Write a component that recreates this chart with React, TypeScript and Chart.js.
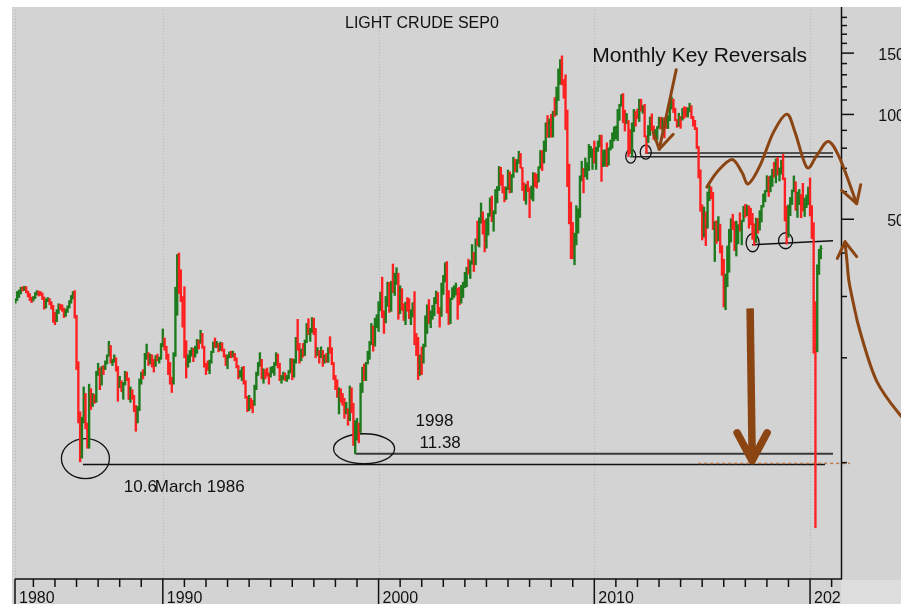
import React, { useEffect, useRef } from 'react';
import { Chart, registerables } from 'chart.js';

Chart.register(...registerables);

// Monthly bars, first bar = March 1983, last bar = July 2020
const FIRST_YEAR = 1983;
const FIRST_MONTH = 3;

const OPEN = [
  29.0, 29.3, 30.6, 30.9, 31.7, 31.5, 31.9, 30.9, 30.4, 29.5,
  29.3, 29.7, 30.6, 30.8, 30.6, 30.5, 29.8, 27.9, 29.3, 29.5, 28.8, 28.1,
  26.4, 25.6, 27.3, 28.2, 28.0, 27.6, 26.5, 27.4, 28.0, 29.0, 30.0, 30.8,
  26.3, 18.8, 13.3, 10.4, 13.3, 15.4, 12.8, 11.2, 15.9, 14.8, 15.3, 15.0,
  18.0, 18.6, 16.8, 18.8, 18.7, 19.4, 20.3, 21.4, 19.6, 19.6, 19.9, 18.4,
  16.7, 17.0, 16.0, 16.9, 17.9, 17.4, 15.2, 15.8, 15.6, 14.2, 13.8, 14.2,
  17.2, 18.0, 17.9, 20.4, 20.4, 19.6, 20.1, 19.6, 19.0, 20.1, 19.8, 19.9,
  21.8, 22.7, 21.5, 20.3, 18.4, 17.4, 17.1, 20.3, 26.9, 39.5, 35.2, 29.5,
  28.4, 21.5, 19.2, 19.6, 20.7, 21.2, 20.2, 21.4, 22.3, 22.2, 23.3, 21.5,
  19.1, 18.9, 18.7, 19.5, 20.8, 22.1, 21.6, 21.9, 21.1, 21.9, 21.1, 20.3,
  19.5, 20.3, 20.6, 20.4, 20.5, 19.9, 18.9, 17.7, 18.0, 18.7, 16.9, 15.4,
  14.2, 15.2, 14.8, 14.7, 16.4, 18.0, 19.1, 19.7, 17.6, 18.4, 18.2, 18.0,
  17.8, 18.4, 18.5, 19.2, 20.4, 18.9, 17.4, 17.6, 17.8, 17.5, 17.6, 18.2,
  19.6, 17.7, 19.5, 21.5, 21.2, 19.8, 20.9, 20.4, 22.3, 24.4, 23.4, 23.8,
  25.9, 24.2, 20.6, 20.8, 20.2, 20.9, 19.8, 20.1, 19.6, 21.2, 21.1, 19.2,
  17.6, 17.2, 15.4, 15.6, 15.4, 15.2, 14.2, 14.2, 13.4, 16.1, 14.4, 11.3,
  12.1, 12.8, 12.3, 16.8, 18.7, 17.8, 19.3, 20.5, 22.1, 24.5, 21.8, 24.6,
  25.6, 27.6, 30.4, 26.9, 25.7, 29.0, 32.5, 27.4, 33.1, 30.8, 32.7, 34.4,
  26.8, 28.7, 27.4, 26.3, 28.5, 28.4, 26.2, 26.4, 27.2, 23.4, 21.2, 19.4,
  19.8, 19.5, 21.7, 26.3, 27.3, 25.3, 26.9, 27.0, 28.9, 30.5, 27.2, 26.9,
  31.2, 33.5, 36.6, 31.0, 25.8, 29.6, 30.2, 30.5, 31.6, 29.2, 29.1, 30.4,
  32.5, 33.1, 36.2, 35.8, 37.4, 39.9, 37.1, 43.8, 42.1, 49.6, 51.8, 49.1,
  43.5, 48.2, 51.8, 55.4, 49.7, 52.0, 56.5, 60.6, 68.9, 66.2, 59.8, 57.3,
  61.0, 67.9, 61.4, 66.6, 71.9, 71.3, 73.9, 74.4, 70.3, 62.9, 58.7, 62.9,
  61.1, 58.1, 61.8, 65.9, 65.7, 64.0, 70.7, 78.2, 74.0, 81.7, 94.5, 88.7,
  96.0, 91.8, 101.8, 101.6, 113.5, 127.4, 140.0, 124.1, 115.5, 100.6, 67.8, 54.4,
  44.6, 41.7, 44.8, 49.7, 51.1, 66.3, 69.9, 69.5, 70.0, 70.6, 77.0, 77.3,
  79.4, 72.9, 79.7, 83.8, 86.2, 74.0, 75.6, 79.0, 71.9, 80.0, 81.4, 84.1,
  91.4, 92.2, 97.0, 106.7, 113.9, 102.7, 95.4, 95.7, 88.8, 79.2, 93.2, 100.4,
  98.8, 98.5, 107.1, 103.0, 104.9, 86.5, 85.0, 88.1, 96.5, 92.2, 86.2, 88.9,
  91.8, 97.5, 92.1, 97.2, 93.5, 92.0, 96.6, 105.0, 107.7, 102.3, 96.4, 92.7,
  98.4, 97.5, 102.6, 101.6, 99.7, 102.7, 105.4, 98.2, 96.0, 91.2, 80.5, 66.2,
  53.3, 48.2, 49.8, 47.6, 59.6, 60.3, 59.5, 47.1, 49.2, 45.1, 46.6, 41.7,
  37.0, 33.6, 33.8, 38.3, 45.9, 49.1, 48.3, 41.6, 44.7, 48.2, 46.9, 49.4,
  53.7, 52.8, 54.0, 50.6, 49.3, 48.3, 46.0, 50.2, 47.2, 51.7, 54.4, 57.4,
  60.4, 64.7, 61.6, 64.9, 68.6, 67.0, 74.2, 68.8, 69.8, 73.3, 65.3, 50.9,
  45.4, 53.8, 57.2, 60.1, 63.9, 53.5, 58.5, 58.6, 55.1, 54.1, 54.2, 55.2,
  61.1, 51.6, 45.5, 23.5, 21.3, 35.5, 39.3,
];

const HIGH = [
  29.6, 31.0, 31.3, 31.9, 32.0, 32.1, 32.0, 31.1, 30.6, 29.9,
  30.0, 30.8, 31.2, 31.1, 31.0, 30.7, 29.9, 29.5, 29.8, 29.6, 29.0, 28.3,
  27.0, 27.5, 28.6, 28.5, 28.4, 27.8, 27.6, 28.2, 29.2, 30.2, 31.0, 31.2,
  26.5, 19.5, 14.0, 13.5, 16.5, 15.8, 13.0, 16.8, 16.3, 15.8, 15.7, 18.3,
  19.3, 18.7, 18.9, 19.0, 19.6, 20.4, 22.3, 21.7, 19.8, 20.4, 20.0, 18.9,
  17.7, 17.2, 17.0, 18.3, 18.2, 17.5, 16.5, 16.2, 15.6, 14.6, 14.5, 17.4,
  18.2, 18.5, 20.6, 21.9, 20.7, 20.5, 20.4, 19.8, 20.3, 20.5, 20.1, 22.0,
  24.2, 22.8, 21.6, 20.5, 19.4, 17.6, 20.7, 31.9, 39.6, 40.0, 35.8, 30.0,
  32.0, 22.4, 20.4, 21.0, 21.4, 21.3, 21.6, 22.6, 22.5, 24.0, 23.5, 21.6,
  19.3, 19.6, 19.7, 20.9, 22.2, 22.8, 22.3, 22.0, 22.2, 22.1, 21.2, 20.4,
  20.4, 20.8, 20.9, 20.9, 20.6, 20.0, 19.0, 18.4, 18.8, 18.9, 17.2, 15.5,
  15.6, 15.3, 15.1, 16.7, 18.2, 19.4, 20.7, 19.8, 18.6, 18.5, 18.7, 18.1,
  18.8, 18.9, 19.4, 20.7, 20.5, 19.3, 17.8, 18.2, 18.1, 17.8, 18.4, 19.9,
  19.9, 19.8, 22.9, 25.8, 22.0, 21.2, 22.0, 22.5, 25.1, 25.9, 24.3, 26.1,
  26.0, 24.3, 21.4, 21.0, 21.5, 21.0, 20.4, 20.6, 21.4, 23.0, 21.4, 19.4,
  17.8, 17.3, 16.4, 16.3, 15.8, 15.3, 14.9, 14.3, 16.6, 16.4, 14.8, 13.2,
  13.4, 13.0, 16.9, 18.8, 19.2, 19.4, 20.9, 22.3, 25.1, 24.7, 26.0, 26.6,
  29.0, 30.9, 34.1, 27.3, 30.0, 33.0, 32.9, 33.2, 37.2, 35.0, 36.3, 35.0,
  32.2, 31.6, 28.6, 28.9, 29.8, 29.6, 27.5, 28.8, 31.0, 23.5, 22.9, 20.4,
  21.5, 21.9, 26.4, 28.4, 29.4, 27.3, 28.3, 29.8, 31.1, 30.8, 27.9, 32.8,
  34.5, 37.5, 37.8, 31.2, 29.7, 31.8, 32.2, 32.8, 31.7, 31.9, 32.3, 33.0,
  35.2, 36.4, 38.4, 38.0, 42.3, 40.2, 43.9, 49.4, 50.5, 55.7, 52.5, 49.7,
  50.2, 52.0, 57.6, 58.3, 52.9, 60.9, 62.1, 70.9, 70.5, 67.0, 62.0, 61.9,
  69.2, 68.4, 67.2, 75.4, 74.4, 74.1, 78.4, 77.3, 70.4, 63.6, 62.9, 64.3,
  61.6, 62.3, 68.1, 67.9, 67.4, 70.7, 78.8, 78.8, 83.9, 94.5, 99.3, 97.0,
  100.1, 102.1, 111.8, 119.9, 135.1, 143.7, 147.3, 126.0, 130.0, 103.0, 72.0, 56.0,
  49.0, 45.6, 54.7, 53.6, 66.6, 73.4, 70.0, 75.0, 72.7, 82.0, 81.0, 79.6,
  83.9, 80.5, 83.8, 87.2, 87.2, 79.0, 79.1, 82.9, 80.1, 84.4, 88.6, 92.1,
  92.6, 103.4, 107.0, 113.9, 114.8, 102.8, 100.6, 96.0, 90.5, 94.6, 103.4, 102.0,
  103.7, 110.6, 110.6, 106.1, 106.9, 86.8, 92.9, 98.3, 100.4, 92.7, 90.6, 92.3,
  98.2, 98.2, 97.8, 97.9, 97.1, 99.3, 109.3, 112.2, 110.7, 104.2, 96.6, 100.8,
  98.6, 104.0, 105.2, 104.9, 104.5, 107.7, 106.0, 98.7, 96.2, 91.6, 81.0, 69.4,
  55.0, 54.2, 52.5, 59.9, 62.6, 61.9, 59.7, 49.3, 49.5, 50.9, 48.4, 42.0,
  38.4, 34.8, 41.9, 46.8, 50.2, 51.7, 49.2, 49.4, 48.2, 52.2, 49.6, 54.5,
  55.2, 54.9, 54.6, 53.8, 52.0, 48.5, 50.4, 50.2, 52.9, 54.8, 59.1, 60.5,
  66.7, 66.3, 66.6, 69.6, 72.9, 74.5, 75.3, 70.2, 73.9, 76.9, 65.7, 54.6,
  55.0, 57.8, 60.7, 66.6, 64.0, 59.9, 60.9, 58.8, 63.4, 57.5, 58.7, 61.9,
  65.7, 54.7, 48.9, 29.0, 37.0, 41.0, 42.0,
];

const LOW = [
  28.7, 29.2, 29.8, 30.5, 31.1, 31.2, 30.7, 29.9, 29.2, 28.8,
  29.1, 29.6, 30.3, 30.1, 30.2, 29.4, 27.6, 27.8, 29.0, 28.4, 27.6, 25.3,
  24.9, 25.4, 26.8, 27.5, 27.2, 26.1, 26.3, 27.0, 27.8, 28.7, 29.5, 26.0,
  18.5, 13.0, 10.05, 10.3, 13.0, 12.5, 11.0, 11.0, 14.2, 14.5, 14.8, 14.9,
  17.8, 16.2, 16.7, 17.9, 18.5, 19.2, 20.2, 19.3, 19.0, 19.4, 18.3, 15.0,
  16.4, 16.0, 15.2, 16.7, 17.2, 15.2, 14.9, 15.2, 14.0, 12.3, 13.0, 14.1,
  16.8, 17.4, 17.8, 19.8, 19.0, 19.2, 18.8, 18.2, 18.9, 19.6, 19.3, 19.8,
  21.5, 21.0, 19.8, 17.9, 16.8, 15.9, 16.8, 20.2, 26.5, 30.6, 29.0, 24.5,
  20.0, 17.5, 18.8, 19.4, 20.2, 19.5, 20.1, 20.6, 21.2, 22.0, 21.3, 18.8,
  17.9, 18.4, 18.0, 19.3, 20.7, 21.4, 21.4, 20.8, 21.0, 20.9, 20.1, 19.0,
  18.6, 20.0, 20.0, 20.1, 19.6, 18.7, 17.4, 17.6, 17.2, 16.8, 15.3, 14.0,
  14.1, 14.3, 13.9, 14.6, 16.2, 17.8, 18.9, 17.4, 16.9, 17.4, 17.7, 16.8,
  17.6, 18.1, 17.8, 19.0, 18.7, 17.2, 16.9, 17.3, 17.2, 17.1, 17.4, 18.1,
  17.3, 17.6, 19.3, 21.0, 19.3, 19.6, 20.1, 20.3, 22.1, 23.3, 22.3, 23.6,
  23.3, 20.0, 20.3, 19.3, 20.0, 18.9, 19.3, 19.4, 19.4, 20.6, 19.1, 17.3,
  16.2, 15.4, 13.8, 14.9, 14.6, 13.4, 13.8, 12.8, 13.2, 13.9, 11.2, 10.6,
  11.6, 11.4, 12.2, 15.9, 17.2, 17.2, 19.2, 19.8, 21.8, 20.9, 21.6, 24.4,
  23.8, 27.3, 26.1, 23.5, 25.2, 28.1, 27.0, 27.2, 30.8, 30.2, 32.5, 25.8,
  26.8, 27.4, 25.6, 24.9, 27.2, 25.9, 24.9, 26.2, 21.8, 20.3, 17.3, 17.8,
  17.9, 19.3, 21.5, 23.5, 25.1, 24.4, 25.8, 26.4, 28.6, 26.8, 24.5, 26.3,
  30.4, 33.0, 26.9, 24.9, 25.1, 29.4, 29.8, 30.3, 25.8, 28.4, 28.7, 29.8,
  31.8, 32.0, 34.8, 33.8, 37.1, 35.4, 37.0, 42.0, 41.6, 48.7, 45.3, 40.3,
  41.3, 45.0, 51.0, 49.2, 46.2, 51.8, 55.7, 60.5, 62.6, 59.5, 56.1, 57.0,
  60.8, 59.5, 59.7, 65.9, 68.5, 68.2, 72.3, 70.1, 60.4, 56.6, 55.2, 60.0,
  50.5, 57.1, 56.4, 61.9, 61.4, 64.0, 70.0, 69.0, 72.5, 78.3, 86.0, 85.9,
  86.1, 86.1, 98.7, 99.6, 109.6, 122.0, 121.6, 111.3, 90.5, 62.0, 48.5, 38.5,
  38.5, 37.0, 42.2, 45.6, 50.6, 64.4, 59.5, 66.2, 65.1, 69.0, 75.2, 69.5,
  72.4, 69.5, 78.3, 80.6, 64.2, 70.8, 71.1, 70.8, 71.5, 79.0, 80.0, 84.0,
  85.1, 84.1, 96.2, 105.5, 94.6, 89.6, 94.0, 75.7, 77.1, 75.7, 89.2, 92.5,
  97.3, 95.4, 102.2, 100.7, 86.2, 77.3, 83.0, 87.0, 89.8, 84.8, 84.1, 84.7,
  91.2, 90.7, 90.0, 85.6, 91.1, 91.1, 95.9, 103.6, 101.2, 95.9, 91.8, 92.3,
  91.2, 96.3, 97.4, 98.5, 98.2, 101.6, 97.2, 92.5, 90.4, 79.8, 65.7, 52.7,
  43.6, 44.4, 42.0, 47.1, 56.5, 57.2, 46.7, 37.8, 42.6, 43.3, 40.0, 34.5,
  28.0, 27.5, 32.0, 35.2, 43.0, 46.7, 40.6, 39.2, 42.5, 46.2, 42.2, 49.3,
  50.7, 51.2, 47.1, 48.2, 43.8, 42.1, 42.9, 45.6, 46.5, 49.1, 54.2, 56.1,
  59.9, 58.1, 59.9, 62.1, 66.0, 63.6, 67.0, 64.4, 67.4, 64.9, 49.4, 42.4,
  44.4, 51.2, 55.1, 59.9, 53.0, 50.6, 55.1, 50.5, 52.8, 50.9, 54.0, 55.1,
  51.1, 44.0, 20.6, 6.5, 20.8, 34.7, 38.5,
];

const CLOSE = [
  29.3, 30.6, 30.9, 31.7, 31.5, 31.9, 30.9, 30.4, 29.5, 29.3,
  29.7, 30.6, 30.8, 30.6, 30.5, 29.8, 27.9, 29.3, 29.5, 28.8, 28.1, 26.4,
  25.6, 27.3, 28.2, 28.0, 27.6, 26.5, 27.4, 28.0, 29.0, 30.0, 30.8, 26.3,
  18.8, 13.3, 10.4, 13.3, 15.4, 12.8, 11.2, 15.9, 14.8, 15.3, 15.0, 18.0,
  18.6, 16.8, 18.8, 18.7, 19.4, 20.3, 21.4, 19.6, 19.6, 19.9, 18.4, 16.7,
  17.0, 16.0, 16.9, 17.9, 17.4, 15.2, 15.8, 15.6, 14.2, 13.8, 14.2, 17.2,
  18.0, 17.9, 20.4, 20.4, 19.6, 20.1, 19.6, 19.0, 20.1, 19.8, 19.9, 21.8,
  22.7, 21.5, 20.3, 18.4, 17.4, 17.1, 20.3, 26.9, 39.5, 35.2, 29.5, 28.4,
  21.5, 19.2, 19.6, 20.7, 21.2, 20.2, 21.4, 22.3, 22.2, 23.3, 21.5, 19.1,
  18.9, 18.7, 19.5, 20.8, 22.1, 21.6, 21.9, 21.1, 21.9, 21.1, 20.3, 19.5,
  20.3, 20.6, 20.4, 20.5, 19.9, 18.9, 17.7, 18.0, 18.7, 16.9, 15.4, 14.2,
  15.2, 14.8, 14.7, 16.4, 18.0, 19.1, 19.7, 17.6, 18.4, 18.2, 18.0, 17.8,
  18.4, 18.5, 19.2, 20.4, 18.9, 17.4, 17.6, 17.8, 17.5, 17.6, 18.2, 19.6,
  17.7, 19.5, 21.5, 21.2, 19.8, 20.9, 20.4, 22.3, 24.4, 23.4, 23.8, 25.9,
  24.2, 20.6, 20.8, 20.2, 20.9, 19.8, 20.1, 19.6, 21.2, 21.1, 19.2, 17.6,
  17.2, 15.4, 15.6, 15.4, 15.2, 14.2, 14.2, 13.4, 16.1, 14.4, 11.3, 12.1,
  12.8, 12.3, 16.8, 18.7, 17.8, 19.3, 20.5, 22.1, 24.5, 21.8, 24.6, 25.6,
  27.6, 30.4, 26.9, 25.7, 29.0, 32.5, 27.4, 33.1, 30.8, 32.7, 34.4, 26.8,
  28.7, 27.4, 26.3, 28.5, 28.4, 26.2, 26.4, 27.2, 23.4, 21.2, 19.4, 19.8,
  19.5, 21.7, 26.3, 27.3, 25.3, 26.9, 27.0, 28.9, 30.5, 27.2, 26.9, 31.2,
  33.5, 36.6, 31.0, 25.8, 29.6, 30.2, 30.5, 31.6, 29.2, 29.1, 30.4, 32.5,
  33.1, 36.2, 35.8, 37.4, 39.9, 37.1, 43.8, 42.1, 49.6, 51.8, 49.1, 43.5,
  48.2, 51.8, 55.4, 49.7, 52.0, 56.5, 60.6, 68.9, 66.2, 59.8, 57.3, 61.0,
  67.9, 61.4, 66.6, 71.9, 71.3, 73.9, 74.4, 70.3, 62.9, 58.7, 62.9, 61.1,
  58.1, 61.8, 65.9, 65.7, 64.0, 70.7, 78.2, 74.0, 81.7, 94.5, 88.7, 96.0,
  91.8, 101.8, 101.6, 113.5, 127.4, 140.0, 124.1, 115.5, 100.6, 67.8, 54.4, 44.6,
  41.7, 44.8, 49.7, 51.1, 66.3, 69.9, 69.5, 70.0, 70.6, 77.0, 77.3, 79.4,
  72.9, 79.7, 83.8, 86.2, 74.0, 75.6, 79.0, 71.9, 80.0, 81.4, 84.1, 91.4,
  92.2, 97.0, 106.7, 113.9, 102.7, 95.4, 95.7, 88.8, 79.2, 93.2, 100.4, 98.8,
  98.5, 107.1, 103.0, 104.9, 86.5, 85.0, 88.1, 96.5, 92.2, 86.2, 88.9, 91.8,
  97.5, 92.1, 97.2, 93.5, 92.0, 96.6, 105.0, 107.7, 102.3, 96.4, 92.7, 98.4,
  97.5, 102.6, 101.6, 99.7, 102.7, 105.4, 98.2, 96.0, 91.2, 80.5, 66.2, 53.3,
  48.2, 49.8, 47.6, 59.6, 60.3, 59.5, 47.1, 49.2, 45.1, 46.6, 41.7, 37.0,
  33.6, 33.8, 38.3, 45.9, 49.1, 48.3, 41.6, 44.7, 48.2, 46.9, 49.4, 53.7,
  52.8, 54.0, 50.6, 49.3, 48.3, 46.0, 50.2, 47.2, 51.7, 54.4, 57.4, 60.4,
  64.7, 61.6, 64.9, 68.6, 67.0, 74.2, 68.8, 69.8, 73.3, 65.3, 50.9, 45.4,
  53.8, 57.2, 60.1, 63.9, 53.5, 58.5, 58.6, 55.1, 54.1, 54.2, 55.2, 61.1,
  51.6, 45.5, 23.5, 21.3, 35.5, 39.3, 41.2,
];

// axis ticks / labels
const DECADE_TICKS = [1990, 2000, 2010, 2020];
const X_LABELS = ['1980', '1990', '2000', '2010', '2020'];
const Y_MAJOR = [150, 100, 50];
const Y_LABELS = ['150', '100', '50'];
const Y_MINOR = [190, 180, 170, 160, 140, 130, 120, 110, 90, 80, 70, 60, 40, 30, 20, 10];

// axis ranges (year, price)
const X_MIN = 1983.148;
const X_MAX = 2021.481;
const Y_MIN = 4.632;
const Y_MAX = 199.5;

// hand-drawn annotations, in (year, price)
const SUPPORT_LINES = [
  { from: [1986.296, 9.87], to: [2020.694, 9.87], color: '#111111', width: 1.5 },
  { from: [1998.935, 10.61], to: [2021.065, 10.61], color: '#3a3a3a', width: 2 },
  { from: [2011.667, 75.6], to: [2021.065, 75.6], color: '#262626', width: 1.5 },
  { from: [2012.361, 77.53], to: [2021.065, 77.53], color: '#262626', width: 1.5 },
  { from: [2017.315, 42.24], to: [2021.065, 43.37], color: '#111111', width: 1.5 },
];
const DOTTED_LINE = { from: [2014.815, 9.95], to: [2021.852, 9.95] };
const RINGS = [
  { at: [1986.412, 10.27], rx: 24, ry: 20 },
  { at: [1999.329, 10.96], rx: 30.5, ry: 15 },
  { at: [2011.69, 75.86], rx: 5, ry: 7 },
  { at: [2012.384, 77.89], rx: 5.5, ry: 7 },
  { at: [2017.338, 42.8], rx: 6.5, ry: 9 },
  { at: [2018.866, 43.37], rx: 7, ry: 8 },
];
const SMALL_ARROW = {
  shaft: [[2013.796, 134.4], [2013.009, 79.43]],
  arms: [[2012.731, 88.82], [2013.657, 87.67]],
};
const BIG_ARROW = {
  shaft: [[2017.222, 27.73], [2017.315, 10.13]],
  arms: [[2016.62, 12.18], [2018.009, 12.18]],
};
const WAVE = [
  [2015.218, 61.86], [2015.681, 68.28], [2016.375, 74.23], [2016.838, 68.28],
  [2017.144, 63.22], [2017.685, 71.36], [2018.301, 88.82], [2018.921, 100.2],
  [2019.306, 88.82], [2019.847, 70.56], [2020.31, 76.21], [2020.847, 83.56],
  [2021.389, 74.52], [2022.162, 55.41],
];
const WAVE_ARMS = [[2021.468, 60.53], [2022.347, 62.8]];
const ARC = [
  [2021.62, 43.08], [2021.713, 37.77], [2021.806, 33.11], [2021.991, 29.03],
  [2022.315, 23.84], [2023.088, 17.15], [2024.213, 13.62], [2024.861, 12.51],
];
const ARC_ARMS = [[2021.264, 38.6], [2022.162, 39.04]];
const NOTES = [
  { text: '1998', at: [2001.713, 12.76], size: 17 },
  { text: '11.38', at: [2001.898, 11.04], size: 17 },
  { text: '10.6', at: [1988.194, 8.21], size: 17 },
  { text: 'March 1986', at: [1989.63, 8.21], size: 17 },
  { text: 'Monthly Key Reversals', at: [2009.907, 141.7], size: 21 },
];
const TITLE = 'LIGHT CRUDE SEP0';

const FONT = '"Liberation Sans", Arial, Helvetica, sans-serif';
const GREEN = '#1d7a1d';
const RED = '#ff2121';
const BROWN = '#8b4513';
const BG = '#d3d3d3';
const BG2 = '#dddddd';

function monthValue(i: number) {
  return FIRST_YEAR + (FIRST_MONTH - 1 + i) / 12;
}

function smoothPath(ctx: CanvasRenderingContext2D, pts: number[][]) {
  ctx.moveTo(pts[0][0], pts[0][1]);
  for (let i = 0; i < pts.length - 1; i++) {
    const p0 = pts[i - 1] || pts[i];
    const p1 = pts[i];
    const p2 = pts[i + 1];
    const p3 = pts[i + 2] || p2;
    ctx.bezierCurveTo(
      p1[0] + (p2[0] - p0[0]) / 6, p1[1] + (p2[1] - p0[1]) / 6,
      p2[0] - (p3[0] - p1[0]) / 6, p2[1] - (p3[1] - p1[1]) / 6,
      p2[0], p2[1]
    );
  }
}

const overlayPlugin = {
  id: 'overlay',
  beforeDraw(chart: any) {
    const { ctx, chartArea: a } = chart;
    const x = chart.scales.x;
    ctx.save();
    ctx.fillStyle = BG;
    ctx.fillRect(0, 0, chart.width, chart.height);
    ctx.strokeStyle = '#b6b6b6';
    ctx.lineWidth = 1;
    ctx.setLineDash([1, 2]);
    const gx = [a.left, ...DECADE_TICKS.map((d) => x.getPixelForValue(d))];
    gx.forEach((px) => {
      const rx = Math.round(px) + 0.5;
      ctx.beginPath();
      ctx.moveTo(rx, a.top);
      ctx.lineTo(rx, a.bottom);
      ctx.stroke();
    });
    ctx.restore();
  },
  beforeDatasetsDraw(chart: any) {
    const { ctx } = chart;
    const x = chart.scales.x;
    const y = chart.scales.y;
    const P = (p: number[]) => [x.getPixelForValue(p[0]), y.getPixelForValue(p[1])];
    ctx.save();
    SUPPORT_LINES.forEach((l) => {
      const a = P(l.from);
      const b = P(l.to);
      ctx.strokeStyle = l.color;
      ctx.lineWidth = l.width;
      ctx.beginPath();
      ctx.moveTo(a[0], a[1]);
      ctx.lineTo(b[0], b[1]);
      ctx.stroke();
    });
    ctx.strokeStyle = '#111111';
    ctx.lineWidth = 1.3;
    RINGS.forEach((r) => {
      const c = P(r.at);
      ctx.beginPath();
      ctx.ellipse(c[0], c[1], r.rx, r.ry, 0, 0, Math.PI * 2);
      ctx.stroke();
    });
    ctx.restore();
  },
  afterDatasetsDraw(chart: any) {
    const { ctx, chartArea: a } = chart;
    const x = chart.scales.x;
    const y = chart.scales.y;
    const P = (p: number[]) => [x.getPixelForValue(p[0]), y.getPixelForValue(p[1])];
    ctx.save();

    // dotted brown level line
    {
      const s = P(DOTTED_LINE.from);
      const e = P(DOTTED_LINE.to);
      ctx.strokeStyle = '#b8784a';
      ctx.lineWidth = 1.5;
      ctx.setLineDash([3, 3]);
      ctx.beginPath();
      ctx.moveTo(s[0], s[1]);
      ctx.lineTo(e[0], e[1]);
      ctx.stroke();
      ctx.setLineDash([]);
    }

    // axes
    ctx.strokeStyle = '#111111';
    ctx.lineWidth = 1.5;
    ctx.beginPath();
    ctx.moveTo(a.right - 0.5, 0);
    ctx.lineTo(a.right - 0.5, a.bottom);
    ctx.moveTo(a.left, a.bottom);
    ctx.lineTo(a.right, a.bottom);
    ctx.stroke();

    Y_MINOR.forEach((v) => {
      const py = y.getPixelForValue(v);
      ctx.beginPath();
      ctx.moveTo(a.right - 0.5, py);
      ctx.lineTo(a.right + 5, py);
      ctx.stroke();
    });
    Y_MAJOR.forEach((v) => {
      const py = y.getPixelForValue(v);
      ctx.beginPath();
      ctx.moveTo(a.right - 0.5, py);
      ctx.lineTo(a.right + 12, py);
      ctx.stroke();
    });

    for (let yr = Math.ceil(X_MIN); yr <= Math.floor(X_MAX); yr++) {
      if (DECADE_TICKS.includes(yr)) continue;
      const px = x.getPixelForValue(yr);
      ctx.beginPath();
      ctx.moveTo(px, a.bottom);
      ctx.lineTo(px, a.bottom + 8);
      ctx.stroke();
    }
    const majors = [a.left, ...DECADE_TICKS.map((d) => x.getPixelForValue(d))];
    majors.forEach((px) => {
      ctx.beginPath();
      ctx.moveTo(px, a.bottom);
      ctx.lineTo(px, chart.height);
      ctx.stroke();
    });

    ctx.fillStyle = '#111111';
    ctx.font = `16px ${FONT}`;
    ctx.textAlign = 'left';
    ctx.textBaseline = 'alphabetic';
    majors.forEach((px, i) => {
      ctx.fillText(X_LABELS[i], px + 4, chart.height - 1);
    });

    ctx.textAlign = 'right';
    ctx.textBaseline = 'middle';
    Y_MAJOR.forEach((v, i) => {
      ctx.fillText(Y_LABELS[i], a.right + 63, y.getPixelForValue(v) + 2);
    });

    // light corner below the right axis
    ctx.fillStyle = BG2;
    ctx.fillRect(a.right - 1, a.bottom + 1, chart.width - a.right + 1, chart.height - a.bottom);

    // brown hand-drawn marks
    ctx.strokeStyle = BROWN;
    ctx.lineCap = 'round';
    ctx.lineJoin = 'round';

    {
      const s0 = P(SMALL_ARROW.shaft[0]);
      const s1 = P(SMALL_ARROW.shaft[1]);
      ctx.lineWidth = 3;
      ctx.beginPath();
      ctx.moveTo(s0[0], s0[1]);
      ctx.lineTo(s1[0], s1[1]);
      ctx.stroke();
      const l = P(SMALL_ARROW.arms[0]);
      const r = P(SMALL_ARROW.arms[1]);
      ctx.beginPath();
      ctx.moveTo(l[0], l[1]);
      ctx.lineTo(s1[0], s1[1]);
      ctx.lineTo(r[0], r[1]);
      ctx.stroke();
    }
    ctx.lineCap = 'butt';
    {
      const s0 = P(BIG_ARROW.shaft[0]);
      const s1 = P(BIG_ARROW.shaft[1]);
      ctx.lineWidth = 7.5;
      ctx.beginPath();
      ctx.moveTo(s0[0], s0[1]);
      ctx.lineTo(s1[0], s1[1] - 6);
      ctx.stroke();
      ctx.lineCap = 'round';
      const l = P(BIG_ARROW.arms[0]);
      const r = P(BIG_ARROW.arms[1]);
      ctx.beginPath();
      ctx.moveTo(l[0], l[1]);
      ctx.lineTo(s1[0], s1[1]);
      ctx.lineTo(r[0], r[1]);
      ctx.stroke();
    }

    ctx.lineWidth = 3;
    const curve = (pts: number[][], arms: number[][], tipIndex: number) => {
      const px = pts.map(P);
      ctx.beginPath();
      smoothPath(ctx, px);
      ctx.stroke();
      const tip = px[tipIndex];
      const l = P(arms[0]);
      const r = P(arms[1]);
      ctx.beginPath();
      ctx.moveTo(l[0], l[1]);
      ctx.lineTo(tip[0], tip[1]);
      ctx.lineTo(r[0], r[1]);
      ctx.stroke();
    };
    curve(WAVE, WAVE_ARMS, WAVE.length - 1);
    curve(ARC, ARC_ARMS, 0);

    // texts
    ctx.fillStyle = '#111111';
    ctx.textAlign = 'left';
    ctx.textBaseline = 'alphabetic';
    NOTES.forEach((n) => {
      const p = P(n.at);
      ctx.font = `${n.size}px ${FONT}`;
      ctx.fillText(n.text, p[0], p[1]);
    });
    ctx.font = `16px ${FONT}`;
    ctx.fillText(TITLE, 333, 21);

    ctx.restore();
  },
};

export default function App() {
  const ref = useRef<HTMLCanvasElement>(null);
  useEffect(() => {
    const xs = CLOSE.map((_, i) => monthValue(i));
    const colors = CLOSE.map((c, i) => (c >= OPEN[i] ? GREEN : RED));
    const chart = new Chart(ref.current as HTMLCanvasElement, {
      type: 'bar',
      data: {
        datasets: [
          {
            type: 'bar',
            data: xs.map((xv, i) => ({ x: xv, y: [LOW[i], HIGH[i]] })) as any,
            backgroundColor: colors,
            borderWidth: 0,
            barThickness: 1.7,
            order: 2,
          } as any,
          {
            type: 'line',
            data: xs.map((xv, i) => ({ x: xv, y: OPEN[i] })),
            showLine: false,
            pointStyle: 'dash',
            pointRotation: 180,
            pointRadius: 1.7,
            pointBorderWidth: 1.3,
            pointBorderColor: colors,
            pointBackgroundColor: colors,
            pointHoverRadius: 0,
            pointHitRadius: 0,
            order: 1,
          } as any,
          {
            type: 'line',
            data: xs.map((xv, i) => ({ x: xv, y: CLOSE[i] })),
            showLine: false,
            pointStyle: 'dash',
            pointRotation: 0,
            pointRadius: 1.7,
            pointBorderWidth: 1.3,
            pointBorderColor: colors,
            pointBackgroundColor: colors,
            pointHoverRadius: 0,
            pointHitRadius: 0,
            order: 1,
          } as any,
        ],
      },
      options: {
        animation: false,
        responsive: false,
        maintainAspectRatio: false,
        events: [],
        layout: { padding: { left: 2, right: 59, top: 0, bottom: 25 } },
        plugins: { legend: { display: false }, tooltip: { enabled: false }, title: { display: false } },
        scales: {
          x: { type: 'linear', min: X_MIN, max: X_MAX, offset: false, display: false, grid: { offset: false } },
          y: { type: 'logarithmic', min: Y_MIN, max: Y_MAX, display: false },
        },
      } as any,
      plugins: [overlayPlugin],
    });
    return () => chart.destroy();
  }, []);
  return (
    <div style={{ position: 'fixed', left: 12, top: 7, width: 889, height: 597, overflow: 'hidden' }}>
      <canvas ref={ref} width={889} height={597} style={{ display: 'block', width: 889, height: 597 }} />
    </div>
  );
}
